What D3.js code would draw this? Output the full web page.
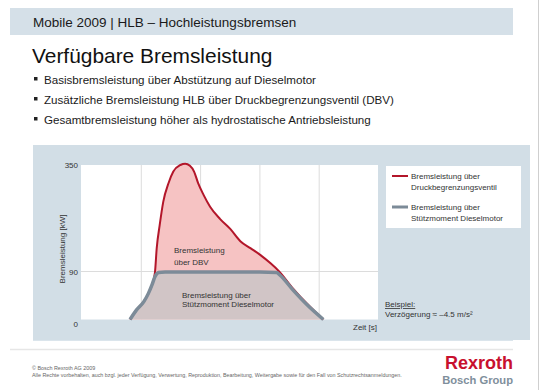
<!DOCTYPE html>
<html><head><meta charset="utf-8">
<script src="https://cdn.jsdelivr.net/npm/d3@7/dist/d3.min.js"></script>
<style>
html,body{margin:0;padding:0;background:#fff;}
svg{display:block;font-family:"Liberation Sans",Arial,sans-serif;}
</style></head>
<body>
<svg id="c" width="540" height="390"></svg>
<script>
// ---- data ----
const headerText = "Mobile 2009 | HLB – Hochleistungsbremsen";
const titleText = "Verfügbare Bremsleistung";
const bullets = [
  "Basisbremsleistung über Abstützung auf Dieselmotor",
  "Zusätzliche Bremsleistung HLB über Druckbegrenzungsventil  (DBV)",
  "Gesamtbremsleistung höher als hydrostatische Antriebsleistung"
];
const yTicks = [0, 90, 350];
const xGrid = [1, 2, 3, 4];
// Diesel (Stützmoment) curve: time [s], power [kW]
const dieselT = [0.81, 0.92, 1.04, 1.12, 1.18, 1.23, 1.29, 1.40, 2.0, 3.0, 3.28, 3.34, 3.56, 3.80, 4.07];
const dieselV = [0, 18, 33, 49, 65, 80, 88, 89, 89, 89, 88, 83, 55, 27, 0];
// Total (DBV + Diesel) curve
const totalT = [0.81, 0.92, 1.04, 1.12, 1.18, 1.23, 1.26, 1.31, 1.37, 1.46, 1.54, 1.66, 1.74, 1.82, 1.89, 1.96, 2.05, 2.16, 2.33, 2.50, 2.67, 2.84, 3.01, 3.18, 3.32, 3.56, 3.80, 4.07];
const totalV = [0, 18, 33, 49, 65, 88, 147, 203, 260, 306, 334, 350, 353, 348, 334, 305, 277, 248, 218, 194, 164, 147, 130, 110, 91, 58, 29, 0];
const legendItems = [
  {lines:["Bremsleistung über","Druckbegrenzungsventil"], color:"#b3162a"},
  {lines:["Bremsleistung über","Stützmoment Dieselmotor"], color:"#7c8b98"}
];

const svg = d3.select("#c");

// header band
svg.append("rect").attr("x",10).attr("y",8).attr("width",503).attr("height",27).attr("fill","#d5e0e8");
svg.append("text").attr("x",33).attr("y",27).attr("font-size",13.5).attr("fill","#1a1a1a").text(headerText);
svg.append("text").attr("x",32).attr("y",63).attr("font-size",20.9).attr("fill","#111").text(titleText);
bullets.forEach((b,i)=>{
  const y = 84 + i*20;
  svg.append("rect").attr("x",34).attr("y",y-7).attr("width",3.5).attr("height",3.5).attr("fill","#222");
  svg.append("text").attr("x",44).attr("y",y).attr("font-size",11.6).attr("fill","#1a1a1a").text(b);
});

// chart panel
svg.append("rect").attr("x",33).attr("y",145).attr("width",497).attr("height",195).attr("fill","#d2dee6");
const L=81, R=378, T=165, B=319.5;
svg.append("rect").attr("x",L).attr("y",T).attr("width",R-L).attr("height",B-T).attr("fill","#fff");

const x = d3.scaleLinear().domain([0,5]).range([82,378.5]);
const y = d3.scaleLinear().domain([0,90,350]).range([B,271.5,T]);

// grid
svg.append("g").selectAll("line").data(xGrid).join("line")
  .attr("x1",d=>x(d)).attr("x2",d=>x(d)).attr("y1",T).attr("y2",B)
  .attr("stroke","#dcdcdc").attr("stroke-width",1);
svg.append("line").attr("x1",L).attr("x2",R).attr("y1",y(90)).attr("y2",y(90))
  .attr("stroke","#dcdcdc").attr("stroke-width",1);

const total = totalT.map((t,i)=>({t, v: totalV[i]}));
const diesel = dieselT.map((t,i)=>({t, v: dieselV[i]}));
const curve = d3.curveMonotoneX;
const area = d3.area().x(d=>x(d.t)).y0(y(0)).y1(d=>y(d.v)).curve(curve);
const line = d3.line().x(d=>x(d.t)).y(d=>y(d.v)).curve(curve);

svg.append("path").attr("d",area(total)).attr("fill","#f6c3c3");
svg.append("path").attr("d",area(diesel)).attr("fill","#d1c5c6");
svg.append("path").attr("d",line(total)).attr("fill","none").attr("stroke","#b3162a").attr("stroke-width",2);
svg.append("path").attr("d",line(diesel)).attr("fill","none").attr("stroke","#7c8b98").attr("stroke-width",3.5);

// y axis labels
const yAxis = d3.axisLeft(y).tickValues(yTicks).tickSize(0).tickPadding(0);
const ga = svg.append("g").attr("transform",`translate(78,0)`).call(yAxis);
ga.select(".domain").remove();
ga.selectAll("text").attr("font-size",8).attr("fill","#333").attr("font-family","Liberation Sans, Arial, sans-serif")
  .attr("dy", d => d===0 ? "0.9em" : "0.32em");

svg.append("text").attr("transform","translate(65,249) rotate(-90)").attr("text-anchor","middle")
  .attr("font-size",8).attr("fill","#333").text("Bremsleistung  [kW]");
svg.append("text").attr("x",353).attr("y",330).attr("font-size",8).attr("fill","#333").text("Zeit [s]");

// in-chart labels
[["Bremsleistung",253],["über DBV",265]].forEach(([s,yy])=>
  svg.append("text").attr("x",174).attr("y",yy).attr("font-size",8).attr("fill","#333").text(s));
[["Bremsleistung über",298],["Stützmoment Dieselmotor",307]].forEach(([s,yy])=>
  svg.append("text").attr("x",182).attr("y",yy).attr("font-size",8).attr("fill","#333").text(s));

// legend
svg.append("rect").attr("x",386).attr("y",166).attr("width",135).attr("height",62).attr("fill","#fff");
legendItems.forEach((it,i)=>{
  const y0 = 176 + i*31;
  svg.append("line").attr("x1",392).attr("x2",408).attr("y1",y0).attr("y2",y0)
    .attr("stroke",it.color).attr("stroke-width",i===0?2:3);
  it.lines.forEach((s,j)=>svg.append("text").attr("x",411).attr("y",y0+3+j*10.5)
    .attr("font-size",8).attr("fill","#333").text(s));
});

// example
svg.append("text").attr("x",385).attr("y",307).attr("font-size",8).attr("fill","#333")
  .attr("text-decoration","underline").text("Beispiel:");
svg.append("text").attr("x",385).attr("y",317).attr("font-size",8).attr("fill","#333")
  .text("Verzögerung  ≈  –4.5 m/s²");

// footer
svg.append("line").attr("x1",33).attr("x2",513).attr("y1",340.5).attr("y2",340.5).attr("stroke","#dbe5ec");
svg.append("line").attr("x1",10).attr("x2",513).attr("y1",349.5).attr("y2",349.5).attr("stroke","#e6e6e6").attr("stroke-width",1.5);
svg.append("text").attr("x",32).attr("y",370).attr("font-size",5.4).attr("fill","#666").text("© Bosch Rexroth AG 2009");
svg.append("text").attr("x",32).attr("y",377).attr("font-size",5.35).attr("fill","#666")
  .text("Alle Rechte vorbehalten, auch bzgl. jeder Verfügung, Verwertung, Reproduktion, Bearbeitung, Weitergabe sowie für den Fall von Schutzrechtsanmeldungen.");
svg.append("text").attr("x",513).attr("y",369).attr("text-anchor","end").attr("font-size",18)
  .attr("font-weight","bold").attr("fill","#c8102e").text("Rexroth");
svg.append("text").attr("x",513).attr("y",384).attr("text-anchor","end").attr("font-size",11.2)
  .attr("font-weight","bold").attr("fill","#7f8f9c").text("Bosch Group");
svg.append("line").attr("x1",538.5).attr("x2",538.5).attr("y1",0).attr("y2",390).attr("stroke","#cfcfcf");
</script>
</body></html>
